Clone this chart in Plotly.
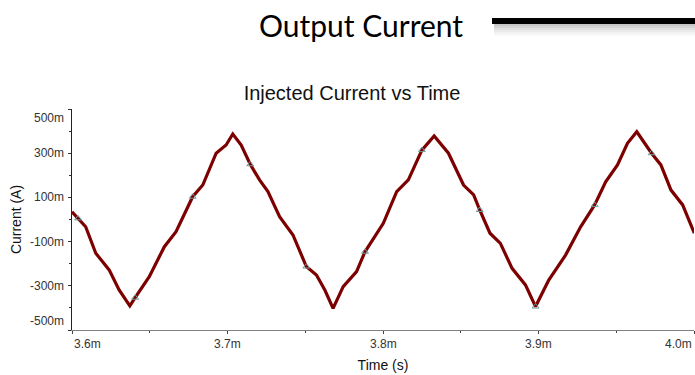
import plotly.graph_objects as go

# ---- data ----
time_ms = [3.6000, 3.6039, 3.6088, 3.6153, 3.6200, 3.6239, 3.6303, 3.6372, 3.6406, 3.6497,
           3.6594, 3.6669, 3.6776, 3.6841, 3.6927, 3.6991, 3.7034, 3.7088, 3.7146, 3.7206,
           3.7260, 3.7335, 3.7421, 3.7507, 3.7572, 3.7626, 3.7679, 3.7744, 3.7830, 3.7884,
           3.8002, 3.8088, 3.8163, 3.8250, 3.8329, 3.8421, 3.8518, 3.8583, 3.8622, 3.8688,
           3.8755, 3.8830, 3.8916, 3.8981, 3.9066, 3.9174, 3.9271, 3.9361, 3.9432, 3.9508,
           3.9572, 3.9632, 3.9727, 3.9787, 3.9852, 3.9927, 4.0002]
current_a = [0.035, 0.005, -0.033, -0.153, -0.191, -0.228, -0.319, -0.391, -0.354, -0.259,
             -0.123, -0.055, 0.103, 0.156, 0.300, 0.337, 0.387, 0.337, 0.250, 0.179,
             0.126, 0.013, -0.070, -0.213, -0.251, -0.319, -0.402, -0.304, -0.236, -0.146,
             -0.017, 0.126, 0.179, 0.314, 0.378, 0.300, 0.156, 0.111, 0.043, -0.062,
             -0.108, -0.221, -0.296, -0.394, -0.274, -0.161, -0.033, 0.066, 0.171, 0.247,
             0.345, 0.397, 0.300, 0.247, 0.133, 0.066, -0.062]

marker_t = [3.6039, 3.6406, 3.6776, 3.7146, 3.7507, 3.7884, 3.8250, 3.8622, 3.8981, 3.9361, 3.9727]
marker_v = [0.005, -0.354, 0.103, 0.250, -0.213, -0.146, 0.314, 0.043, -0.394, 0.066, 0.300]

x_tick_vals = [3.6, 3.7, 3.8, 3.9, 4.0]
x_tick_text = ["3.6m", "3.7m", "3.8m", "3.9m", "4.0m"]
y_tick_vals = [0.5, 0.3, 0.1, -0.1, -0.3, -0.5]
y_tick_text = ["500m", "300m", "100m", "-100m", "-300m", "-500m"]

slide_title = "Output Current"
chart_title = "Injected Current vs Time"
x_title = "Time (s)"
y_title = "Current (A)"

# ---- layout geometry ----
W, H = 695, 375
L, R, T, B = 72, 1, 109, 45
PW, PH = W - L - R, H - T - B


def px(x):
    return (x - L) / PW


def py(y):
    return (H - B - y) / PH


FONT = "Liberation Sans, Arial, sans-serif"

fig = go.Figure()
fig.add_trace(go.Scatter(x=time_ms, y=current_a, mode="lines",
                         line=dict(color="#7d0000", width=3.2),
                         hoverinfo="skip", showlegend=False))
fig.add_trace(go.Scatter(x=marker_t, y=marker_v, mode="markers",
                         marker=dict(symbol="triangle-up-open", size=6,
                                     color="#6f9a9a", line=dict(width=1)),
                         showlegend=False))

annotations = []
# x tick labels
for i, (v, t) in enumerate(zip(x_tick_vals, x_tick_text)):
    anchor = "left" if i == 0 else ("right" if i == len(x_tick_vals) - 1 else "center")
    annotations.append(dict(x=v, xref="x", y=0, yref="paper", text=t, showarrow=False,
                            xanchor=anchor, yanchor="top", yshift=-5,
                            font=dict(family=FONT, size=12, color="#333")))
# y tick labels
for i, (v, t) in enumerate(zip(y_tick_vals, y_tick_text)):
    anchor = "top" if i == 0 else ("bottom" if i == len(y_tick_vals) - 1 else "middle")
    annotations.append(dict(x=0, xref="paper", y=v, yref="y", text=t, showarrow=False,
                            xanchor="right", yanchor=anchor, xshift=-6,
                            font=dict(family=FONT, size=12, color="#333")))
# slide header
annotations.append(dict(x=px(361), y=py(25), xref="paper", yref="paper", text=slide_title,
                        showarrow=False, xanchor="center", yanchor="middle",
                        font=dict(family="Lato, Noto Sans, sans-serif", size=30, color="#000")))

shapes = []
# shadow under header bar
alphas = [0.22, 0.17, 0.12, 0.08, 0.05, 0.025]
for k, a in enumerate(alphas):
    shapes.append(dict(type="rect", xref="paper", yref="paper",
                       x0=px(494), x1=px(W + 2), y0=py(24 + 2 * k + 2), y1=py(24 + 2 * k),
                       fillcolor=f"rgba(0,0,0,{a})", line=dict(width=0), layer="above"))
# header bar
shapes.append(dict(type="rect", xref="paper", yref="paper",
                   x0=px(492), x1=px(W + 2), y0=py(24), y1=py(18),
                   fillcolor="#000", line=dict(width=0), layer="above"))

fig.update_layout(
    width=W, height=H,
    margin=dict(l=L, r=R, t=T, b=B, pad=0),
    paper_bgcolor="white", plot_bgcolor="white",
    title=dict(text=chart_title, x=352 / W, xref="container", xanchor="center",
               y=1 - 93 / H, yref="container", yanchor="middle",
               font=dict(family=FONT, size=20, color="#111")),
    xaxis=dict(range=[3.6, 4.0], showgrid=False, zeroline=False,
               tickvals=x_tick_vals, showticklabels=False,
               ticks="outside", ticklen=3, tickcolor="#444",
               showline=True, linecolor="#808080", linewidth=1,
               minor=dict(tickvals=[3.65, 3.75, 3.85, 3.95], ticks="outside",
                          ticklen=2, tickcolor="#444"),
               title=dict(text=x_title, standoff=27,
                          font=dict(family=FONT, size=14, color="#111"))),
    yaxis=dict(range=[-0.5, 0.5], showgrid=False, zeroline=False,
               tickvals=y_tick_vals, showticklabels=False,
               ticks="outside", ticklen=3, tickcolor="#333",
               showline=True, linecolor="#222", linewidth=1,
               minor=dict(tickvals=[0.4, 0.2, 0.0, -0.2, -0.4], ticks="outside",
                          ticklen=2, tickcolor="#333"),
               title=dict(text=y_title, standoff=43,
                          font=dict(family=FONT, size=14, color="#111"))),
    annotations=annotations,
    shapes=shapes,
)

fig.write_html("out.html")
